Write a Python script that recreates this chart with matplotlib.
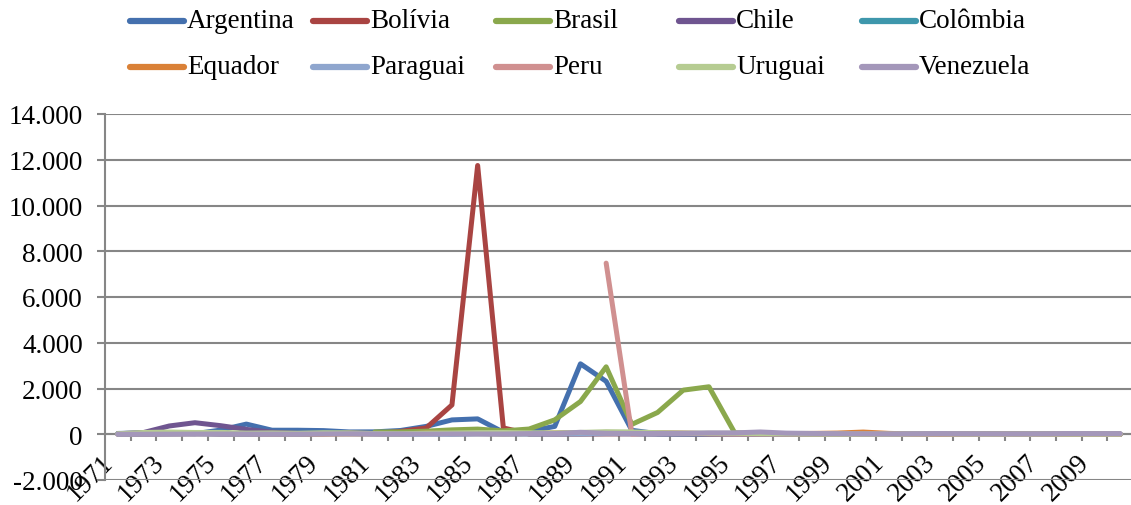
import numpy as np
import matplotlib
matplotlib.use('Agg')
import matplotlib.pyplot as plt
from matplotlib.lines import Line2D
from matplotlib.ticker import FuncFormatter, FixedLocator

plt.rcParams['font.family'] = ['Liberation Serif', 'DejaVu Serif']
plt.rcParams['font.size'] = 19.5

nan = np.nan
years = np.arange(1971, 2011)

argentina = [34.7, 58.5, 61.2, 23.5, 182.9, 444.0, 176.0, 175.5, 159.5, 100.8,
             104.5, 164.8, 343.8, 626.7, 672.2, 90.1, 131.3, 343.0, 3079.5, 2314.0,
             171.7, 24.9, 10.6, 4.2, 3.4, 0.2, 0.5, 0.9, -1.2, -0.9,
             -1.1, 25.9, 13.4, 4.4, 9.6, 10.9, 8.8, 8.6, 6.3, 10.5]
bolivia = [3.7, 6.5, 31.5, 62.8, 8.0, 4.5, 8.1, 10.4, 19.7, 47.2,
           32.1, 123.5, 275.6, 1281.4, 11749.6, 276.3, 14.6, 16.0, 15.2, 17.1,
           21.4, 12.1, 8.5, 7.9, 10.2, 12.4, 4.7, 7.7, 2.2, 4.6,
           1.6, 0.9, 3.3, 4.4, 5.4, 4.3, 8.7, 14.0, 3.3, 2.5]
brasil = [nan, nan, nan, nan, nan, nan, nan, nan, nan, nan,
          101.7, 100.5, 135.0, 192.1, 226.0, 147.1, 228.3, 629.1, 1430.7, 2947.7,
          432.8, 951.6, 1928.0, 2075.9, 66.0, 15.8, 6.9, 3.2, 4.9, 7.0,
          6.8, 8.4, 14.7, 6.6, 6.9, 4.2, 3.6, 5.7, 4.9, 5.0]
chile = [20.0, 74.8, 361.5, 504.7, 374.7, 211.9, 91.9, 40.1, 33.4, 35.1,
         19.7, 9.9, 27.3, 19.9, 30.7, 19.5, 19.9, 14.7, 17.0, 26.0,
         21.8, 15.4, 12.7, 11.4, 8.2, 7.4, 6.1, 5.1, 3.3, 3.8,
         3.6, 2.5, 2.8, 1.1, 3.1, 3.4, 4.4, 8.7, 1.5, 1.4]
colombia = [9.0, 14.3, 22.8, 24.3, 22.9, 20.2, 33.1, 17.8, 24.7, 26.5,
            27.5, 24.5, 19.8, 16.1, 24.0, 18.9, 23.3, 28.1, 25.9, 29.1,
            30.4, 27.0, 22.6, 23.8, 21.0, 20.2, 18.9, 20.4, 11.2, 9.2,
            8.0, 6.3, 7.1, 5.9, 5.0, 4.3, 5.5, 7.0, 4.2, 2.3]
equador = [8.4, 7.9, 13.0, 23.3, 15.4, 10.7, 13.0, 11.7, 10.3, 12.8,
           16.4, 16.3, 48.4, 31.2, 28.0, 23.0, 29.5, 58.2, 75.6, 48.5,
           48.8, 54.3, 45.0, 27.3, 22.9, 24.4, 30.6, 36.1, 52.2, 96.1,
           37.7, 12.5, 7.9, 2.7, 2.2, 3.3, 2.3, 8.4, 5.2, 3.6]
paraguai = [5.2, 9.2, 12.8, 25.2, 6.7, 4.5, 9.4, 10.6, 28.2, 22.4,
            14.0, 6.8, 13.4, 20.3, 25.2, 31.7, 21.8, 22.6, 26.4, 38.2,
            24.3, 15.1, 18.3, 20.6, 13.4, 9.8, 7.0, 11.5, 6.8, 9.0,
            7.3, 10.5, 14.2, 4.3, 6.8, 9.6, 8.1, 10.2, 2.6, 4.7]
peru = [nan, nan, nan, nan, nan, nan, nan, nan, nan, nan,
        nan, nan, nan, nan, nan, nan, nan, nan, nan, 7480.0,
        10.0, 73.5, 48.6, 23.7, 11.1, 11.5, 8.5, 7.3, 3.5, 3.8,
        2.0, 0.2, 2.3, 3.7, 1.6, 2.0, 1.8, 5.8, 2.9, 1.5]
uruguai = [24.0, 76.5, 97.0, 77.2, 81.4, 50.6, 58.2, 44.5, 66.8, 63.5,
           34.0, 19.0, 49.2, 55.3, 72.2, 76.4, 63.6, 62.2, 80.4, 112.5,
           102.0, 68.5, 54.1, 44.7, 42.2, 28.3, 19.8, 10.8, 5.7, 4.8,
           4.4, 14.0, 19.4, 9.2, 4.7, 6.4, 8.1, 7.9, 7.1, 6.7]
venezuela = [3.2, 2.8, 4.1, 8.3, 10.2, 7.6, 7.8, 7.1, 12.4, 21.5,
             16.2, 9.6, 6.2, 12.2, 11.4, 11.5, 28.1, 29.5, 84.5, 40.7,
             34.2, 31.4, 38.1, 60.8, 59.9, 99.9, 50.0, 35.8, 23.6, 16.2,
             12.5, 22.4, 31.1, 21.7, 16.0, 13.7, 18.7, 31.4, 27.1, 28.2]

names = ['Argentina', 'Bolívia', 'Brasil', 'Chile', 'Colômbia',
         'Equador', 'Paraguai', 'Peru', 'Uruguai', 'Venezuela']
series = [argentina, bolivia, brasil, chile, colombia,
          equador, paraguai, peru, uruguai, venezuela]
colors = ['#4470AE', '#A94442', '#8AA84C', '#6F5590', '#3E97AC',
          '#DA8137', '#8FA6CE', '#D09090', '#B6CC92', '#A497BA']

grid_color = '#868686'

fig = plt.figure(figsize=(11.31, 5.06), dpi=100)
ax = fig.add_axes([105 / 1131, 25 / 506, 1028 / 1131, 366 / 506])

for vals, c in zip(series, colors):
    ax.plot(years, vals, color=c, lw=3.6, solid_capstyle='round',
            solid_joinstyle='round', zorder=3)

ax.set_xlim(1970.5, 2010.5)
ax.set_ylim(-2000, 14000)
ax.set_yticks(np.arange(-2000, 14001, 2000))
ax.yaxis.set_major_formatter(FuncFormatter(lambda v, p: f'{v:,.0f}'.replace(',', '.')))
ax.yaxis.grid(True, color=grid_color, lw=1.5)
ax.set_axisbelow(True)

# x axis sits at zero, labels on every other year, ticks between categories
ax.spines['bottom'].set_position(('data', 0))
ax.spines['bottom'].set_color(grid_color)
ax.spines['bottom'].set_linewidth(1.5)
ax.spines['bottom'].set_zorder(2)
ax.spines['left'].set_color(grid_color)
ax.spines['left'].set_linewidth(1.5)
ax.spines['top'].set_visible(False)
ax.spines['right'].set_visible(False)

ax.xaxis.set_major_locator(FixedLocator(years[::2]))
ax.xaxis.set_minor_locator(FixedLocator(years[:-1] + 0.5))
ax.tick_params(axis='x', which='major', length=0, pad=11)
ax.tick_params(axis='x', which='minor', length=5, width=1.5, color=grid_color, direction='out')
ax.tick_params(axis='y', length=6, width=1.5, color=grid_color, pad=10)
for lab in ax.get_xticklabels():
    lab.set_rotation(45)
    lab.set_ha('right')
    lab.set_va('top')

# legend laid out in two rows of five
for i, (name, c) in enumerate(zip(names, colors)):
    x0 = 130 + 183 * (i % 5)
    y0 = 22 + 46 * (i // 5)
    fig.add_artist(Line2D([x0 / 1131, (x0 + 54) / 1131], [1 - y0 / 506, 1 - y0 / 506],
                          transform=fig.transFigure, color=c, lw=4.5,
                          solid_capstyle='round'))
    fig.text((x0 + 57) / 1131, 1 - y0 / 506, name, ha='left', va='center')

fig.savefig('out.png', dpi=100)
